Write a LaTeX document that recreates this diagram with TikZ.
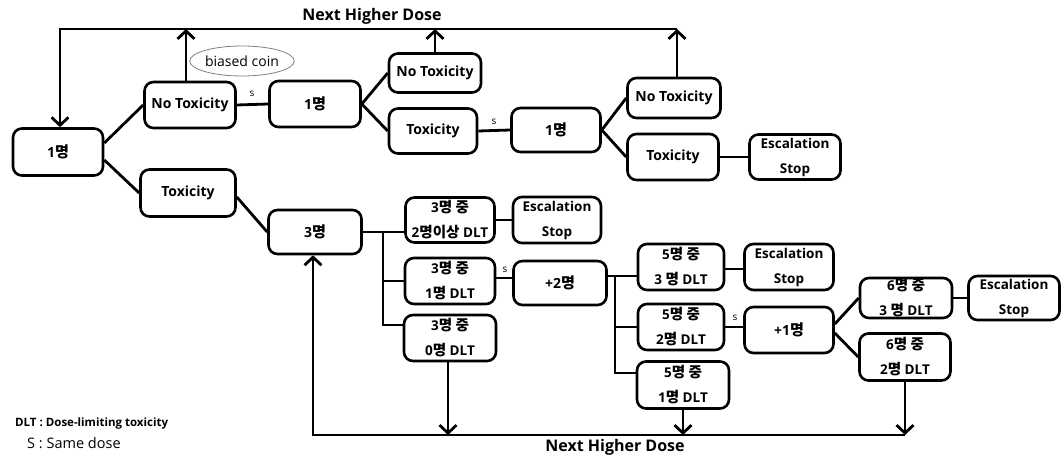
\documentclass[tikz,border=0pt]{standalone}
\usepackage{fontspec}
\setmainfont{Open Sans}
\newfontfamily\kr{Noto Sans CJK KR}[Scale=1.08]
\usetikzlibrary{arrows.meta,shapes.geometric}
\newcommand\K[1]{{\kr #1}}
\begin{document}
\begin{tikzpicture}[x=1pt,y=-1pt,
  box/.style={draw, line width=2.6pt, rounded corners=9pt, align=center, inner sep=0pt,
              font=\bfseries\fontsize{14}{16}\selectfont},
  sbox/.style={box, font=\bfseries\fontsize{13.5}{25}\selectfont},
  sz/.style n args={2}{minimum width=#1, minimum height=#2},
  ln/.style={line width=2.8pt},
  arr/.style={ln, -{Straight Barb[length=8pt,width=17pt]}},
  slab/.style={font=\fontsize{10}{12}\selectfont, inner sep=0pt},
  ttl/.style={font=\bfseries\fontsize{16}{18}\selectfont, inner sep=0pt}
]
\useasboundingbox (0,0) rectangle (1062,457);

% nodes
\node[box, sz={90pt}{47pt}] (A) at (58,152) {1\K{명}};
\node[box, sz={91pt}{46pt}] (NT1) at (190,105) {No Toxicity};
\node[box, sz={95pt}{47pt}] (T1) at (188,193) {Toxicity};
\node[box, sz={91pt}{46pt}] (B1) at (315,104) {1\K{명}};
\node[box, sz={92pt}{39pt}] (NT2) at (435,73) {No Toxicity};
\node[box, sz={88pt}{45pt}] (T2) at (433,131) {Toxicity};
\node[box, sz={89pt}{44pt}] (B3) at (556,130) {1\K{명}};
\node[box, sz={93pt}{40pt}] (NT3) at (674,98) {No Toxicity};
\node[box, sz={91pt}{46pt}] (T3) at (673,157) {Toxicity};
\node[sbox, sz={91pt}{45pt}] (ES1) at (795,157) {Escalation\\Stop};
\node[box, sz={93pt}{44pt}] (C3) at (315,232) {3\K{명}};
\node[sbox, sz={89pt}{45pt}] (D2) at (450,220) {3\K{명 중}\\2\K{명이상} DLT};
\node[sbox, sz={88pt}{46pt}] (ES2) at (557,220) {Escalation\\Stop};
\node[sbox, sz={90pt}{46pt}] (D1) at (450,281) {3\K{명 중}\\1\K{명} DLT};
\node[box, sz={93pt}{44pt}] (P2) at (560,283) {+2\K{명}};
\node[sbox, sz={92pt}{46pt}] (D0) at (450,338) {3\K{명 중}\\0\K{명} DLT};
\node[sbox, sz={86pt}{46pt}] (F3) at (681,267) {5\K{명 중}\\3 \K{명} DLT};
\node[sbox, sz={89pt}{46pt}] (ES3) at (789,267) {Escalation\\Stop};
\node[sbox, sz={86pt}{46pt}] (F2) at (681,327) {5\K{명 중}\\2\K{명} DLT};
\node[box, sz={89pt}{46pt}] (P1) at (789,330) {+1\K{명}};
\node[sbox, sz={92pt}{47pt}] (F1) at (683,385) {5\K{명 중}\\1\K{명} DLT};
\node[sbox, sz={92pt}{40pt}] (G3) at (906,298) {6\K{명 중}\\3 \K{명} DLT};
\node[sbox, sz={91pt}{44pt}] (ES4) at (1014,298) {Escalation\\Stop};
\node[sbox, sz={91pt}{47pt}] (G2) at (905,357) {6\K{명 중}\\2\K{명} DLT};

\node[draw=gray, line width=0.8pt, ellipse, sz={96pt}{30pt}, inner sep=0pt,
      font=\fontsize{14}{16}\selectfont] (bc) at (242,61) {biased coin};

% labels
\node[ttl] (top) at (372,16) {Next Higher Dose};
\node[ttl] (bot) at (615,447) {Next Higher Dose};
\node[anchor=west, inner sep=0pt, font=\bfseries\fontsize{11.5}{13}\selectfont] (leg1) at (15,424) {DLT : Dose-limiting toxicity};
\node[anchor=west, inner sep=0pt, font=\fontsize{14.5}{16}\selectfont] (leg2) at (27,443) {S : Same dose};
\node[slab] (s1) at (252,94) {s};
\node[slab] (s2) at (494,122) {s};
\node[slab] (s3) at (505,270) {s};
\node[slab] (s4) at (735,318) {s};

% coordinates
\coordinate (tl) at (60,29);
\coordinate (tr) at (677,29);
\coordinate (bl) at (313,435);
\coordinate (br) at (905,435);
\coordinate (j1) at (383,232);
\coordinate (j1b) at (383,281);
\coordinate (j1c) at (383,325);
\coordinate (j2) at (615,276);
\coordinate (j2b) at (615,327);
\coordinate (j2c) at (615,373);

% connectors
\draw[ln] ([yshift=9pt]A.east) -- (NT1.west);
\draw[ln] ([yshift=-8pt]A.east) -- (T1.west);
\draw[ln] (NT1.east) -- (B1.west);
\draw[ln] (B1.east) -- (NT2.west);
\draw[ln] (B1.east) -- (T2.west);
\draw[ln] (T2.east) -- (B3.west);
\draw[ln] (B3.east) -- (NT3.west);
\draw[ln] (B3.east) -- (T3.west);
\draw[ln] (T3.east) -- (ES1.west);
\draw[ln] ([yshift=-4pt]T1.east) -- (C3.west);

\draw[ln] (C3.east) -- (D2.west |- C3.east);
\draw[ln] (j1) -- (j1c) -- (D0.west |- j1c);
\draw[ln] (j1b) -- (D1.west);
\draw[ln] (D2.east) -- (ES2.west);
\draw[ln] ([yshift=3pt]D1.east) -- ([yshift=3pt]D1.east -| P2.west);

\draw[ln] (P2.east |- j2) -- (F3.west |- j2);
\draw[ln] (j2) -- (j2c) -- (F1.west |- j2c);
\draw[ln] (j2b) -- (F2.west);
\draw[ln] ([yshift=-2pt]F3.east) -- ([yshift=-2pt]F3.east -| ES3.west);
\draw[ln] (F2.east) -- (F2.east -| P1.west);
\draw[ln] ([yshift=6pt]P1.east) -- (G3.west);
\draw[ln] ([yshift=-3pt]P1.east) -- (G2.west);
\draw[ln] (G3.east) -- (ES4.west);

% top loop
\draw[arr] (tr) -- (tl) -- (tl |- A.north);
\draw[arr] ([xshift=-4pt]NT1.north) -- ([xshift=-4pt]NT1.north |- tl);
\draw[arr] (NT2.north) -- (NT2.north |- tl);
\draw[arr] ([xshift=3pt]NT3.north) -- ([xshift=3pt]NT3.north |- tl);

% bottom loop
\draw[arr] (br) -- (bl) -- (bl |- C3.south);
\draw[arr] ([xshift=-2pt]D0.south) -- ([xshift=-2pt]D0.south |- bl);
\draw[arr] (F1.south) -- (F1.south |- bl);
\draw[arr] (G2.south) -- (G2.south |- br);
\end{tikzpicture}
\end{document}
